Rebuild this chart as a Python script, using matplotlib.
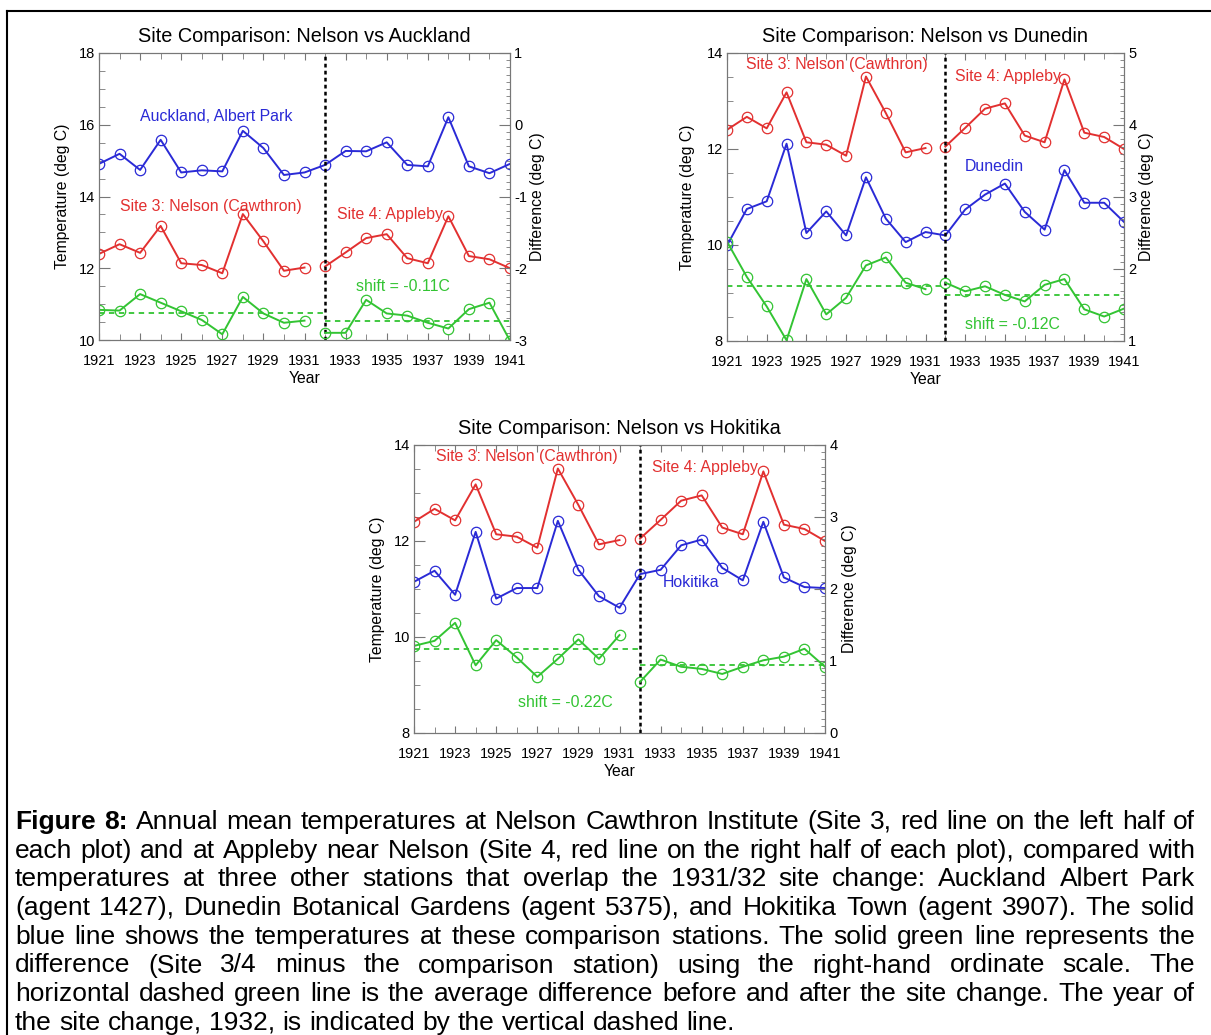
import numpy as np
import matplotlib.pyplot as plt
from matplotlib.lines import Line2D
from matplotlib.ticker import MultipleLocator

plt.rcParams['font.family'] = ['Liberation Sans', 'DejaVu Sans']
plt.rcParams['axes.unicode_minus'] = False

# ---------------------------------------------------------
# Data (annual means, deg C)
# ---------------------------------------------------------
years = np.arange(1921, 1942)
n_before = 11  # 1921-1931 is Site 3, 1932-1941 is Site 4
year_ticks = np.arange(1921, 1942, 2)

nelson = [12.40, 12.67, 12.43, 13.18, 12.14, 12.09, 11.86, 13.51, 12.75, 11.93, 12.02,
          12.05, 12.44, 12.84, 12.95, 12.28, 12.14, 13.45, 12.34, 12.25, 12.00]

auckland = [14.91, 15.19, 14.74, 15.58, 14.67, 14.73, 14.70, 15.83, 15.35, 14.60, 14.67,
            14.88, 15.27, 15.26, 15.51, 14.88, 14.84, 16.21, 14.84, 14.65, 14.91]
auckland_diff = [-2.58, -2.59, -2.36, -2.48, -2.60, -2.72, -2.92, -2.40, -2.63, -2.76, -2.73,
                 -2.90, -2.90, -2.44, -2.63, -2.66, -2.76, -2.84, -2.57, -2.48, -3.01]
auckland_mean = [-2.62, -2.73]

dunedin = [9.99, 10.75, 10.91, 12.11, 10.25, 10.70, 10.20, 11.41, 10.55, 10.06, 10.27,
           10.20, 10.74, 11.05, 11.28, 10.69, 10.32, 11.56, 10.88, 10.88, 10.48]
dunedin_diff = [2.38, 1.89, 1.48, 1.01, 1.86, 1.37, 1.60, 2.05, 2.16, 1.81, 1.72,
                1.81, 1.69, 1.76, 1.64, 1.55, 1.78, 1.86, 1.44, 1.34, 1.45]
dunedin_mean = [1.76, 1.64]

hokitika = [11.15, 11.38, 10.88, 12.19, 10.80, 11.02, 11.02, 12.42, 11.40, 10.85, 10.61,
            11.31, 11.40, 11.91, 12.03, 11.44, 11.18, 12.40, 11.24, 11.04, 11.02]
hokitika_diff = [1.21, 1.28, 1.53, 0.94, 1.29, 1.05, 0.78, 1.03, 1.30, 1.03, 1.36,
                 0.71, 1.02, 0.92, 0.89, 0.82, 0.92, 1.01, 1.06, 1.17, 0.92]
hokitika_mean = [1.16, 0.95]

caption_lines = [
    "Annual mean temperatures at Nelson Cawthron Institute (Site 3, red line on the left half of",
    "each plot) and at Appleby near Nelson (Site 4, red line on the right half of each plot), compared with",
    "temperatures at three other stations that overlap the 1931/32 site change: Auckland Albert Park",
    "(agent 1427), Dunedin Botanical Gardens (agent 5375), and Hokitika Town (agent 3907). The solid",
    "blue line shows the temperatures at these comparison stations. The solid green line represents the",
    "difference (Site 3/4 minus the comparison station) using the right-hand ordinate scale. The",
    "horizontal dashed green line is the average difference before and after the site change. The year of",
    "the site change, 1932, is indicated by the vertical dashed line.",
]

RED = '#e23030'
BLUE = '#2a2ad6'
GREEN = '#33c433'
W, H = 1211, 1035

fig = plt.figure(figsize=(W / 100, H / 100), dpi=100)


def px_rect(x0, y0, x1, y1):
    return [x0 / W, 1 - y1 / H, (x1 - x0) / W, (y1 - y0) / H]


def draw_panel(rect, title, other, diff, means, tlim, dlim, ylab_pad, rlab_pad, labels):
    ax = fig.add_axes(px_rect(*rect))
    ax2 = ax.twinx()

    y3, y4 = years[:n_before], years[n_before:]
    style = dict(marker='o', mfc='none', ms=7.5, mew=0.9, lw=1.4)
    ax.plot(years, other, color=BLUE, **style)
    ax.plot(y3, nelson[:n_before], color=RED, **style)
    ax.plot(y4, nelson[n_before:], color=RED, **style)
    ax2.plot(y3, diff[:n_before], color=GREEN, **style)
    ax2.plot(y4, diff[n_before:], color=GREEN, **style)
    ax2.plot([1921, 1932], [means[0]] * 2, color=GREEN, lw=1.3, ls=(0, (3, 2.5)))
    ax2.plot([1932, 1941], [means[1]] * 2, color=GREEN, lw=1.3, ls=(0, (3, 2.5)))
    ax.axvline(1932, color='black', lw=1.8, ls=(0, (1.5, 1.3)), zorder=5)

    ax.set_xlim(1921, 1941)
    ax.set_ylim(*tlim)
    ax2.set_ylim(*dlim)
    ax.set_xticks(year_ticks)
    ax.xaxis.set_minor_locator(MultipleLocator(1))
    ax.yaxis.set_major_locator(MultipleLocator(2))
    ax.yaxis.set_minor_locator(MultipleLocator(0.5))
    ax2.yaxis.set_major_locator(MultipleLocator(1))
    ax2.yaxis.set_minor_locator(MultipleLocator(0.1))

    ax.tick_params(axis='x', which='both', direction='in', top=True, labelsize=10.5,
                   pad=10, color='#777777')
    ax.tick_params(axis='x', which='major', length=5)
    ax.tick_params(axis='x', which='minor', length=4)
    ax.tick_params(axis='y', which='both', direction='in', labelsize=10.5, pad=3,
                   color='#777777')
    ax.tick_params(axis='y', which='major', length=8)
    ax.tick_params(axis='y', which='minor', length=4)
    ax2.tick_params(axis='y', which='both', direction='in', labelsize=10.5, pad=3,
                    color='#777777')
    ax2.tick_params(axis='y', which='major', length=8)
    ax2.tick_params(axis='y', which='minor', length=3)
    for a in (ax, ax2):
        for s in a.spines.values():
            s.set_color('#777777')
            s.set_linewidth(0.8)

    ax.set_title(title, fontsize=14.3, pad=8)
    ax.set_xlabel('Year', fontsize=11.3, labelpad=2)
    ax.set_ylabel('Temperature (deg C)', fontsize=11.3, labelpad=ylab_pad)
    ax2.set_ylabel('Difference (deg C)', fontsize=11.3, labelpad=rlab_pad)

    for x, y, s, c in labels:
        ax.text(x, y, s, color=c, fontsize=11.4, ha='left', va='center', zorder=6)
    return ax


draw_panel((99, 53, 510, 340), 'Site Comparison: Nelson vs Auckland',
           auckland, auckland_diff, auckland_mean, (10, 18), (-3, 1), 6, 2,
           [(1923.0, 16.22, 'Auckland, Albert Park', BLUE),
            (1922.0, 13.71, 'Site 3: Nelson (Cawthron)', RED),
            (1932.6, 13.49, 'Site 4: Appleby', RED),
            (1933.5, 11.48, 'shift = -0.11C', GREEN)])

draw_panel((727, 53, 1124, 341), 'Site Comparison: Nelson vs Dunedin',
           dunedin, dunedin_diff, dunedin_mean, (8, 14), (1, 5), 8, 2,
           [(1921.96, 13.75, 'Site 3: Nelson (Cawthron)', RED),
            (1932.5, 13.52, 'Site 4: Appleby', RED),
            (1933.0, 11.63, 'Dunedin', BLUE),
            (1933.0, 8.35, 'shift = -0.12C', GREEN)])

draw_panel((414, 445, 825, 733), 'Site Comparison: Nelson vs Hokitika',
           hokitika, hokitika_diff, hokitika_mean, (8, 14), (0, 4), 6, 3,
           [(1922.07, 13.77, 'Site 3: Nelson (Cawthron)', RED),
            (1932.6, 13.54, 'Site 4: Appleby', RED),
            (1933.1, 11.13, 'Hokitika', BLUE),
            (1926.06, 8.63, 'shift = -0.22C', GREEN)])

# frame on the left and top edges (page box)
fig.add_artist(Line2D([7 / W, 7 / W], [0, 1 - 11 / H], color='black', lw=1.5))
fig.add_artist(Line2D([7 / W, 1], [1 - 11 / H, 1 - 11 / H], color='black', lw=1.5))

# ---------------------------------------------------------
# Justified caption
# ---------------------------------------------------------
renderer = fig.canvas.get_renderer()


def text_width(s, size, weight='normal'):
    t = fig.text(0, 0, s, fontsize=size, fontweight=weight)
    w = t.get_window_extent(renderer).width
    t.remove()
    return w


x_left, x_right = 15, 1195
base0, line_step = 829, 28.7
bold_head = 'Figure 8:'

# pick the font size so the widest line just fits the column
ref = 10
widths = [text_width(bold_head + ' ' + caption_lines[0], ref)] + \
         [text_width(l, ref) for l in caption_lines[1:]]
cap_size = ref * (x_right - x_left) * 0.985 / max(widths)

for i, line in enumerate(caption_lines):
    words = [(w, 'normal') for w in line.split()]
    if i == 0:
        words = [(w, 'bold') for w in bold_head.split()] + words
    ww = [text_width(w, cap_size, wt) for w, wt in words]
    if i < len(caption_lines) - 1:
        gap = (x_right - x_left - sum(ww)) / (len(words) - 1)
    else:
        gap = text_width('a a', cap_size) - text_width('aa', cap_size)
    x = x_left
    yb = base0 + i * line_step
    for (w, wt), wpx in zip(words, ww):
        fig.text(x / W, 1 - yb / H, w, fontsize=cap_size, fontweight=wt,
                 ha='left', va='baseline')
        x += wpx + gap

fig.savefig('out.png', dpi=100)
